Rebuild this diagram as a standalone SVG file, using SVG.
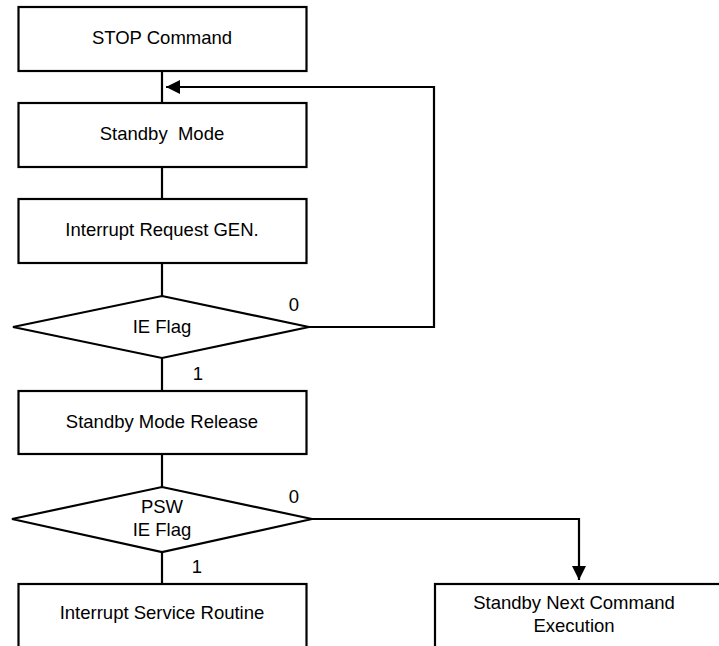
<svg xmlns="http://www.w3.org/2000/svg" width="719" height="646" viewBox="0 0 719 646">
<style>
.box{fill:#fff;stroke:#000;stroke-width:2.2}
.dia{fill:#fff;stroke:#000;stroke-width:2.2;stroke-linejoin:miter}
.ln{fill:none;stroke:#000;stroke-width:2.2}
text{font-family:"Liberation Sans",Arial,sans-serif;font-size:18.5px;fill:#000;text-anchor:middle}
</style>
<defs>
<marker id="ah" viewBox="0 0 14 14" refX="14" refY="7" markerWidth="14" markerHeight="14" markerUnits="userSpaceOnUse" orient="auto">
<path d="M0,0 L14,7 L0,14 Z" fill="#000"/>
</marker>
</defs>
<g id="connectors">
<line class="ln" x1="162" y1="71" x2="162" y2="103"/>
<line class="ln" x1="162" y1="167" x2="162" y2="199"/>
<line class="ln" x1="162" y1="263" x2="162" y2="296"/>
<line class="ln" x1="162" y1="358" x2="162" y2="391"/>
<line class="ln" x1="162" y1="454" x2="162" y2="487"/>
<line class="ln" x1="162" y1="552" x2="162" y2="584"/>
<polyline class="ln" points="309,327 434,327 434,87 166,87" marker-end="url(#ah)"/>
<polyline class="ln" points="312,519 579,519 579,580" marker-end="url(#ah)"/>
<text x="294" y="310.7">0</text>
<text x="198" y="380">1</text>
<text x="294" y="502.7">0</text>
<text x="197" y="572.7">1</text>
</g>
<g id="stop">
<rect class="box" x="18.5" y="7" width="288" height="64"/>
<text x="162" y="43.5">STOP Command</text>
</g>
<g id="standby">
<rect class="box" x="18.5" y="103" width="288" height="64"/>
<text x="162" y="139.5" style="white-space:pre">Standby  Mode</text>
</g>
<g id="irq">
<rect class="box" x="18.5" y="199" width="288" height="64"/>
<text x="162" y="235.7">Interrupt Request GEN.</text>
</g>
<g id="ieflag">
<polygon class="dia" points="162,296 309,327 162,358 13,327"/>
<text x="162" y="332.7">IE Flag</text>
</g>
<g id="release">
<rect class="box" x="18.5" y="391" width="288" height="63"/>
<text x="162" y="427.5">Standby Mode Release</text>
</g>
<g id="pswflag">
<polygon class="dia" points="162,487 312,519 162,552 12,519"/>
<text x="162" y="512.7">PSW</text>
<text x="162" y="536">IE Flag</text>
</g>
<g id="isr">
<rect class="box" x="18.5" y="584" width="288" height="80"/>
<text x="162" y="619.3">Interrupt Service Routine</text>
</g>
<g id="next">
<rect class="box" x="435" y="584" width="288" height="80"/>
<text x="574" y="609.3">Standby Next Command</text>
<text x="574" y="631.7">Execution</text>
</g>
</svg>
